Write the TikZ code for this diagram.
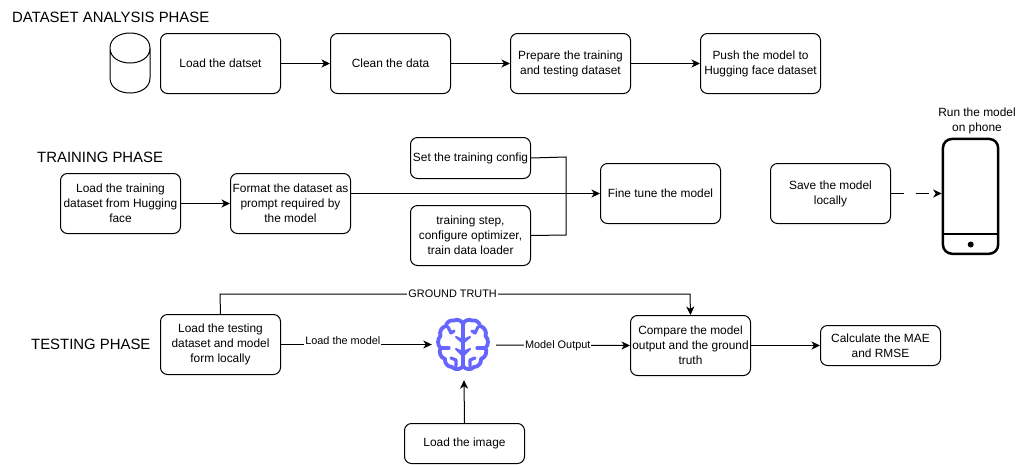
\documentclass[tikz,border=0pt]{standalone}
\usepackage{fontspec}
\setmainfont{Liberation Sans}
\usetikzlibrary{arrows.meta,calc}
\definecolor{brainc}{HTML}{6666FF}
\tikzset{
  x=1pt,y=-1pt,
  txt/.style={font=\fontsize{11.9}{15}\selectfont},
  stepbox/.style={draw,line width=1pt,rounded corners=7pt,align=center,inner sep=1pt,txt,minimum width=120pt,minimum height=60pt,anchor=north west},
  smallbox/.style={stepbox,minimum height=40pt},
  phase/.style={font=\fontsize{14.9}{17}\selectfont,anchor=west,inner sep=0pt},
  conn/.style={line width=1pt,-{Stealth[length=8.5pt,width=8pt,inset=2.5pt]}},
  plainline/.style={line width=1pt},
  elabel/.style={font=\fontsize{10.9}{12}\selectfont,fill=white,inner sep=1pt},
  brainline/.style={draw=brainc,line width=3.8pt,line cap=round,line join=round},
}
\begin{document}
\begin{tikzpicture}
\useasboundingbox (0,0) rectangle (1026,464);
\fill[white] (0,0) rectangle (1026,464);
% titles
\node[phase] (t1) at (12,17) {DATASET ANALYSIS PHASE};
\node[phase] (t2) at (37,157) {TRAINING PHASE};
\node[phase] (t3) at (31,344) {TESTING PHASE};
% cylinder
\draw[line width=1pt,line join=round] (110,48) .. controls (110,28) and (150,28) .. (150,48)
  .. controls (150,68) and (110,68) .. (110,48) -- (110,78)
  .. controls (110,98) and (150,98) .. (150,78) -- (150,48);
% row 1
\node[stepbox] (load) at (160,33) {Load the datset};
\node[stepbox] (clean) at (330,33) {Clean the data};
\node[stepbox] (prep) at (510,33) {Prepare the training\\and testing dataset};
\node[stepbox] (push) at (700,33) {Push the model to\\Hugging face dataset};
\draw[conn] (load) -- (clean);
\draw[conn] (clean) -- (prep);
\draw[conn] (prep) -- (push);
% row 2
\node[stepbox] (ltrain) at (60,173) {Load the training\\dataset from Hugging\\face};
\node[stepbox] (fmt) at (230,173) {Format the dataset as\\prompt required by\\the model};
\node[smallbox,minimum height=41pt] (cfg) at (410,137) {Set the training config};
\node[stepbox] (tstep) at (410,205) {training step,\\configure optimizer,\\train data loader};
\node[stepbox] (fine) at (600,163) {Fine tune the model};
\node[stepbox] (save) at (770,163) {Save the model\\locally};
\coordinate (j1) at (566,157);
\coordinate (j2) at (566,235);
\coordinate (j0) at (566,193);
\draw[conn] (ltrain) -- (fmt);
\draw[plainline] (cfg.east) -- (j1) -- (j0);
\draw[plainline] (tstep.east) -- (j2) -- (j0);
\draw[conn] (fmt.east |- fine.west) -- (fine.west);
% phone
\node[draw,line width=2.5pt,rounded corners=9pt,minimum width=55.2pt,minimum height=114.8pt,inner sep=0pt,anchor=north west] (phone) at (941.7,137.7) {};
\draw[line width=2pt] (phone.west |- 0,234) -- (phone.east |- 0,234);
\fill (970.7,244.5) circle (3pt);
\node[align=center,inner sep=0pt,font=\fontsize{11.9}{15.5}\selectfont] (ptext) at (977,121) {Run the model\\on phone};
\draw[conn,dash pattern=on 13pt off 12pt] (save.east) -- (phone.west |- save.east);
% row 3
\node[stepbox] (ltest) at (160,314) {Load the testing\\dataset and model\\form locally};
\node[stepbox] (cmp) at (630,315) {Compare the model\\output and the ground\\truth};
\node[smallbox] (calc) at (820,325) {Calculate the MAE\\and RMSE};
\node[smallbox] (limg) at (404,423) {Load the image};
\node[minimum width=64pt,minimum height=70pt,inner sep=0pt] (brain) at (464,345) {};
% brain icon
\begin{scope}[shift={(463,345)}]
  \draw[brainline]
    (0,-21) to[bend left=50] (9,-24.5) to[bend left=50] (17,-19) to[bend left=50] (22.5,-9)
    to[bend left=45] (22.5,3) to[bend left=50] (18,14) to[bend left=50] (11,22) to[bend left=55] (0,21)
    to[bend left=55] (-11,22) to[bend left=50] (-18,14) to[bend left=50] (-22.5,3)
    to[bend left=45] (-22.5,-9) to[bend left=50] (-17,-19) to[bend left=50] (-9,-24.5) to[bend left=50] (0,-21);
  \draw[brainline,line width=4.6pt] (0,-21) -- (0,21);
  \filldraw[brainc,line width=2pt,line join=round] (-7,-8) -- (0,-2) -- (7,-8) -- (0,-5) -- cycle;
  \filldraw[brainc,line width=2pt,line join=round] (-7,4) -- (0,11) -- (7,4) -- (0,7) -- cycle;
  \draw[brainline,line width=3.2pt] (-15,-18) -- (-12,-12) -- (-9,-14);
  \draw[brainline,line width=3.2pt] (15,-18) -- (12,-12) -- (9,-14);
  \draw[brainline,line width=3.2pt] (-21,3) -- (-14,3);
  \draw[brainline,line width=3.2pt] (21,3) -- (14,3);
  \draw[brainline,line width=3.2pt] (-7,21) -- (-7,15) -- (-12,13);
  \draw[brainline,line width=3.2pt] (7,21) -- (7,15) -- (12,13);
\end{scope}
\coordinate (g1) at (220,294);
\coordinate (g2) at (690,294);
\draw[conn] (ltest.north) -- (g1) -- node[elabel,pos=0.495] (gl) {GROUND TRUTH} (g2) -- (cmp.north);
\draw[conn] (ltest.east) -- node[elabel,pos=0.41,yshift=4pt] (ll) {Load the model} (brain.west |- ltest.east);
\draw[conn] (brain.east) -- node[elabel,pos=0.46] (ml) {Model Output} (cmp.west);
\draw[conn] (limg.north) -- (brain.south);
\draw[conn] (cmp.east) -- (calc.west);
\end{tikzpicture}
\end{document}
